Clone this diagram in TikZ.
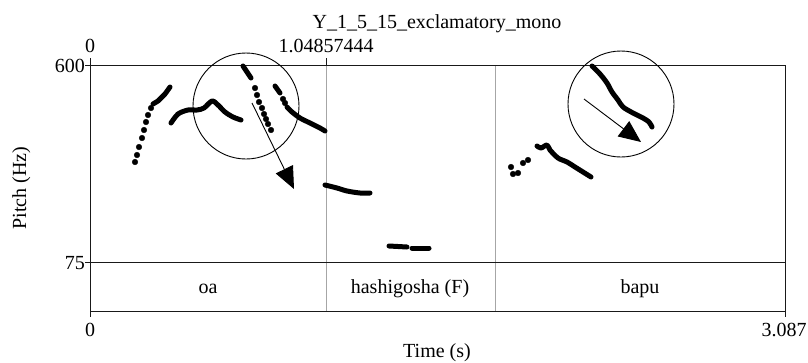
\documentclass[tikz,border=0pt]{standalone}
\usepackage{fontspec}
\setmainfont{Liberation Serif}
\usetikzlibrary{arrows.meta}
\begin{document}
\begin{tikzpicture}[x=1pt,y=-1pt,font=\fontsize{20}{22}\selectfont,
  f0/.style={line width=5pt,line cap=round,line join=round},
  bnd/.style={color=gray!70,line width=0.8pt},
  frame/.style={color=black!90,line width=0.9pt},
  ring/.style={draw,circle,line width=0.9pt,minimum size=106pt,inner sep=0pt},
  pointer/.style={line width=0.9pt,-{Triangle[length=22pt,width=19pt]}},
  lab/.style={anchor=base,inner sep=0pt}]
\useasboundingbox (0,0) rectangle (808,362);

% frame and tiers
\draw[bnd] (326,65) -- (326,311);
\draw[bnd] (495,65) -- (495,311);
\draw[frame] (90,65) rectangle (785,311);
\draw[frame] (90,262) -- (785,262);
\draw[frame] (85,65) -- (90,65) (85,262) -- (90,262);
\draw[frame] (90,58) -- (90,65) (326,58) -- (326,65);
\draw[frame] (90,311) -- (90,317) (785,311) -- (785,317);

% texts
\node[lab] (title) at (437,28) {Y\_1\_5\_15\_exclamatory\_mono};
\node[lab] (top0) at (90,52) {0};
\node[lab] (topb) at (326,52) {1.04857444};
\node[lab,anchor=base east] (hi) at (85,72) {600};
\node[lab,anchor=base east] (lo) at (85,269) {75};
\node[lab,rotate=90] (ylab) at (26,188) {Pitch (Hz)};
\node[lab] (oa) at (208,293) {oa};
\node[lab] (hg) at (410,293) {hashigosha (F)};
\node[lab] (bp) at (640,293) {bapu};
\node[lab] (bot0) at (90,336) {0};
\node[lab] (botb) at (784,336) {3.087};
\node[lab] (xlab) at (437,357) {Time (s)};

% pitch track
\foreach \p in {(135,162),(137,155),(139,147),(142,138),(144,130),(146,122),(148,115),(151,108)}
  \filldraw \p circle (2.8pt);
\draw[f0] (153,104) -- (158,101) -- (165,94) -- (170,87);
\draw[f0] plot[smooth] coordinates {(171,123) (178,114) (188,110) (197,110) (204,108) (212,101) (218,105) (225,112) (233,117) (241,120)};
\draw[f0] (243,66) -- (251,78);
\foreach \p in {(255,88),(257,95),(259,102),(262,108),(264,114),(266,119),(268,124),(271,130)}
  \filldraw \p circle (2.8pt);
\draw[f0] (275,86) -- (280,93);
\foreach \p in {(283,99),(285,103)}
  \filldraw \p circle (2.8pt);
\draw[f0] plot[smooth] coordinates {(287,107) (292,112) (300,118) (310,123) (320,128) (325,131)};
\draw[f0] plot[smooth] coordinates {(325,185) (337,188) (347,191) (360,193) (370,193)};
\draw[f0] (389,246) -- (407,247);
\draw[f0] (412,248) -- (429,248);
\foreach \p in {(511,167),(513,174),(518,173),(523,163),(528,160)}
  \filldraw \p circle (2.8pt);
\draw[f0] plot[smooth] coordinates {(537,146) (541,148) (547,145) (550,150) (558,158) (567,162) (575,167) (583,172) (591,177)};
\draw[f0] plot[smooth] coordinates {(592,66) (600,74) (607,83) (612,92) (618,100) (623,107) (633,113) (643,118) (649,122) (652,127)};

% marks
\node[ring] (ring1) at (246,106) {};
\node[ring] (ring2) at (621,104) {};
\coordinate (a1s) at (252,103);
\coordinate (a1e) at (294,189);
\coordinate (a2s) at (584,99);
\coordinate (a2e) at (641,142);
\draw[pointer] (a1s) -- (a1e);
\draw[pointer] (a2s) -- (a2e);
\end{tikzpicture}
\end{document}
